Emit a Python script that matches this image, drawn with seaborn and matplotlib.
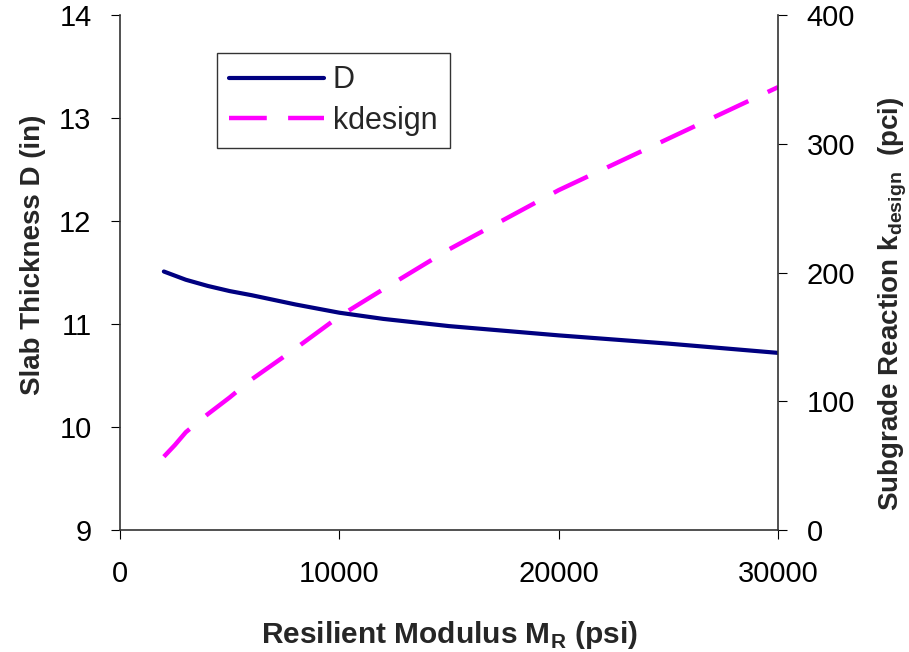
import numpy as np
import pandas as pd
import seaborn as sns
import matplotlib.pyplot as plt
from matplotlib.lines import Line2D

# values
mr = [2000, 2500, 3000, 4000, 5000, 6000, 8000, 10000, 12000, 15000, 20000, 25000, 30000]
d_in = [11.51, 11.47, 11.43, 11.37, 11.32, 11.28, 11.19, 11.11, 11.05, 10.98, 10.89, 10.81, 10.72]
k_design = [57, 66, 76, 90, 103, 117, 141, 166, 187, 218, 264, 304, 344]

df = pd.DataFrame({'MR': mr, 'D': d_in, 'k': k_design})

sns.set_style('white')
plt.rcParams['font.family'] = ['Liberation Sans', 'DejaVu Sans']
plt.rcParams['mathtext.fontset'] = 'custom'
plt.rcParams['mathtext.rm'] = 'Liberation Sans'
plt.rcParams['mathtext.bf'] = 'Liberation Sans:bold'

fig = plt.figure(figsize=(9.09, 6.52), dpi=100)
ax = fig.add_axes([0.132, 0.187, 0.724, 0.790])
ax2 = ax.twinx()

sns.lineplot(data=df, x='MR', y='D', ax=ax, color='#000080', linewidth=3,
             solid_capstyle='round')
sns.lineplot(data=df, x='MR', y='k', ax=ax2, color='#FF00FF', linewidth=3.2,
             dashes=False)
ax2.lines[0].set_dashes([8.5, 4.8])
ax2.lines[0].set_dash_capstyle('butt')

ax.set_xlim(0, 30000)
ax.set_ylim(9, 14)
ax2.set_ylim(0, 400)
ax.set_xticks([0, 10000, 20000, 30000])
ax.set_yticks([9, 10, 11, 12, 13, 14])
ax2.set_yticks([0, 100, 200, 300, 400])

for a in (ax, ax2):
    for s in a.spines.values():
        s.set_visible(False)
    a.tick_params(labelsize=21, colors='black', length=6.5, width=0.8)
ax.spines['left'].set_visible(True)
ax.spines['bottom'].set_visible(True)
ax2.spines['right'].set_visible(True)
for s in (ax.spines['left'], ax.spines['bottom'], ax2.spines['right']):
    s.set_color('#333333')
    s.set_linewidth(1.2)
ax.tick_params(axis='y', direction='out', left=True, pad=14)
ax.tick_params(axis='x', direction='out', bottom=True, pad=15)
ax2.tick_params(axis='y', direction='out', right=True, pad=14)

ax.set_xlabel(r'Resilient Modulus M$_{\mathbf{R}}$ (psi)', fontsize=21.5,
              fontweight='bold')
ax.set_ylabel('Slab Thickness D (in)', fontsize=20, fontweight='bold')
ax2.set_ylabel(r'Subgrade Reaction k$_{\mathbf{design}}$  (pci)', fontsize=20,
               fontweight='bold')
ax.xaxis.set_label_coords(0.5, -0.172)
ax.yaxis.set_label_coords(-0.113, 0.534)
ax2.yaxis.set_label_coords(1.15, 0.44)

handles = [Line2D([], [], color='#000080', lw=3, solid_capstyle='round'),
           Line2D([], [], color='#FF00FF', lw=3.2, dashes=[8.5, 4.8])]
leg = ax.legend(handles, ['D', 'kdesign'], loc='upper left',
                bbox_to_anchor=(0.147, 0.926), fontsize=22, frameon=True,
                fancybox=False, edgecolor='black', handlelength=3.1,
                borderpad=0.4, labelspacing=0.35, handletextpad=0.3,
                borderaxespad=0)
leg.get_frame().set_linewidth(1.0)

fig.savefig('out.png', dpi=100)
